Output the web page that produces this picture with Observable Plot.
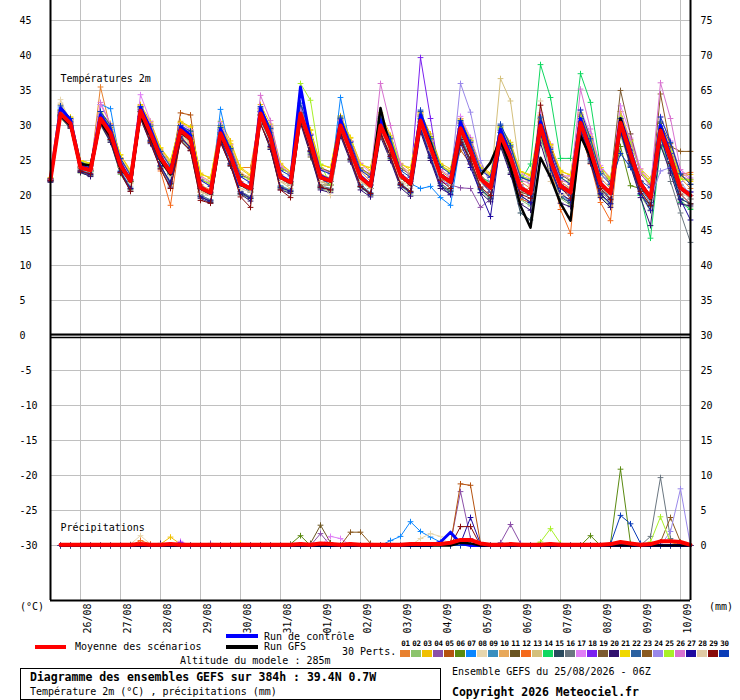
<!DOCTYPE html>
<html>
<head>
<meta charset="utf-8">
<script src="https://cdn.jsdelivr.net/npm/d3@7"></script>
<script src="https://cdn.jsdelivr.net/npm/@observablehq/plot@0.6"></script>
<style>
body{margin:0;background:#fff;}
#wrap{position:relative;width:740px;height:700px;font-family:"DejaVu Sans Mono",monospace;font-size:10px;color:#000;overflow:hidden;}
#chart{position:absolute;left:0;top:0;}
.t{position:absolute;white-space:pre;line-height:12px;}
.b{font-weight:bold;font-size:11.5px;}
.sw{position:absolute;width:10px;height:7px;}
.num{position:absolute;width:11px;text-align:center;font-weight:bold;font-size:7.5px;line-height:9px;letter-spacing:-0.3px;}
.box{position:absolute;left:20px;top:668px;width:421px;height:32px;border:1px solid #000;box-sizing:border-box;}
</style>
</head>
<body>
<div id="wrap"><div id="chart"></div></div>
<script>
// ---- tick labels / categories ----
const dates = ["26/08","27/08","28/08","29/08","30/08","31/08","01/09","02/09","03/09","04/09","05/09","06/09","07/09","08/09","09/09","10/09"];
const dayIndex = [3,7,11,15,19,23,27,31,35,39,43,47,51,55,59,63]; // 00Z steps (6h steps from 25/08 06Z)
const tempTicks = [-30,-25,-20,-15,-10,-5,0,5,10,15,20,25,30,35,40,45];
const pertLabels = ["01","02","03","04","05","06","07","08","09","10","11","12","13","14","15","16","17","18","19","20","21","22","23","24","25","26","27","28","29","30"];
const pertColors = ["#e8812f","#8cc46c","#f0c000","#8b4fa8","#b5520f","#5a8a10","#0a86ff","#e6d6ae","#3a8fbf","#e8a85a","#6a5420","#f56a1c","#d4c07c","#10d860","#2a4a5e","#6a7680","#e07ef6","#7a20f0","#7c5a30","#30106e","#f0d800","#2a60a0","#8a5a20","#9a88ea","#a8f028","#d872d0","#1e0aa0","#e0caa4","#880a0a","#0a3cb8"];

// ---- 2 m temperature (°C), every 6 h from 25/08 06Z (65 steps) ----
const tMean = [22.3,31.7,30.3,24.0,23.6,31.0,28.9,24.3,22.1,32.1,28.9,25.4,23.3,29.3,28.1,21.1,20.4,28.9,25.7,21.7,21.0,31.7,28.3,22.6,21.9,31.7,27.6,22.6,22.1,30.0,26.4,22.6,21.4,30.0,26.9,22.9,21.7,30.7,26.9,22.9,21.9,29.6,26.4,22.4,21.1,28.6,25.4,21.1,20.3,30.0,25.0,21.4,20.4,30.4,26.4,21.7,20.3,30.4,26.0,21.7,19.7,29.3,25.4,21.1,20.0];
const tCtrl = [22.3,32.5,30.8,24.2,23.8,31.5,29.3,24.6,22.2,32.6,29.4,25.6,23.4,29.8,28.6,21.2,20.3,29.5,26.0,21.8,21.0,32.5,28.8,22.8,22.0,35.5,28.0,22.8,22.2,30.8,26.8,22.8,21.5,30.8,27.3,23.0,21.8,31.5,27.3,23.0,22.0,30.5,26.8,22.5,21.0,29.5,25.8,21.0,20.3,30.5,25.5,21.5,20.5,31.0,26.8,21.8,20.3,31.0,26.5,21.8,19.7,30.0,25.8,21.0,20.0];
const tGfs = [22.2,31.5,30.0,24.5,24.3,30.5,28.5,24.0,22.0,31.5,28.5,25.0,23.0,29.0,28.0,21.0,20.3,28.5,25.5,21.5,21.0,31.5,28.0,22.5,22.0,31.5,27.5,22.5,22.0,30.0,26.5,22.5,21.5,32.5,26.5,23.0,21.5,30.5,27.5,23.0,22.0,29.5,26.0,22.9,24.7,28.0,24.0,18.5,15.4,25.4,22.6,18.9,16.4,28.5,25.5,21.5,20.5,31.0,26.0,21.5,19.5,29.5,25.5,21.0,20.0];
const t01 = [22.2,32.0,30.6,24.2,23.8,35.5,29.5,24.8,22.3,32.5,29.5,25.8,23.6,29.8,28.5,21.5,20.8,29.5,26.5,24.0,24.0,32.0,28.8,23.0,22.0,32.5,28.0,23.0,22.5,31.0,27.0,23.5,22.0,31.5,27.5,23.0,21.5,31.5,28.0,23.5,22.5,30.5,27.5,23.0,21.5,29.5,26.5,22.0,21.0,31.5,26.0,22.0,21.0,31.5,27.5,22.5,21.0,32.0,27.0,22.0,20.0,30.5,26.5,22.5,21.0];
const t02 = [22.0,31.0,29.6,23.2,22.8,30.0,27.6,23.0,20.8,31.0,27.6,24.0,21.5,28.0,26.5,19.8,19.2,27.8,24.2,20.2,19.5,30.5,26.8,21.0,20.4,30.5,26.0,21.0,20.6,28.8,25.0,21.2,20.0,28.8,25.2,21.4,20.2,29.4,25.4,21.4,20.4,28.2,24.8,20.8,19.4,27.0,23.6,19.4,18.5,28.4,23.2,19.6,18.6,28.8,24.6,19.9,18.5,28.6,24.2,20.0,17.8,27.6,23.6,19.2,18.2];
const t03 = [22.5,32.2,31.2,25.0,24.6,32.0,30.2,25.8,23.6,33.0,30.6,26.8,24.8,30.6,29.8,23.2,22.4,30.6,27.8,23.8,22.8,33.0,30.2,24.6,23.4,32.6,29.4,24.4,24.0,31.4,28.2,24.6,23.6,31.8,28.6,24.6,23.6,31.8,28.8,24.6,23.8,31.0,28.2,24.2,23.2,29.8,27.6,23.4,22.8,31.0,27.2,23.6,22.8,31.6,28.4,24.0,22.6,30.8,28.0,23.8,22.4,28.8,26.0,22.8,23.0];
const t04 = [22.0,31.5,30.2,23.8,23.5,31.5,29.0,24.0,22.0,32.5,29.0,25.0,23.0,29.5,28.5,21.0,20.5,29.0,26.0,21.5,21.0,32.0,28.5,22.5,22.0,31.5,27.5,22.0,22.0,30.5,26.5,22.5,21.0,30.5,27.0,22.5,21.5,31.0,27.5,23.0,21.5,21.1,21.0,18.3,19.5,28.5,25.5,21.5,20.0,29.5,24.5,21.0,20.0,31.0,26.5,21.5,20.5,30.5,26.0,21.0,19.5,30.0,26.0,21.5,19.5];
const t05 = [22.3,32.2,30.8,24.5,23.8,30.8,28.5,24.0,22.0,31.5,28.5,25.5,23.5,31.8,31.5,21.5,20.5,29.0,25.5,21.5,21.0,31.0,28.0,22.5,21.5,31.0,27.5,22.5,22.0,29.5,26.0,22.0,21.5,29.5,26.5,22.5,21.5,30.5,27.0,22.5,21.5,26.5,24.5,22.0,21.0,28.0,25.0,21.0,20.0,30.5,25.5,21.5,20.5,30.0,26.0,21.0,20.0,31.0,26.5,22.0,20.0,29.0,25.0,21.0,20.5];
const t06 = [22.2,31.5,30.0,24.0,23.5,30.5,28.5,24.0,21.8,31.5,28.5,25.0,23.0,29.0,27.5,20.5,20.0,28.5,25.5,21.5,20.5,31.5,28.0,22.5,21.5,31.5,27.5,22.0,21.5,29.5,26.0,22.0,21.0,29.5,26.5,22.5,21.5,31.5,27.0,22.5,22.0,30.0,26.5,22.0,21.0,28.5,25.0,21.0,20.0,29.0,24.5,21.5,20.5,29.5,25.5,20.5,20.5,27.0,21.4,21.0,19.5,29.0,25.0,21.5,20.0];
const t07 = [22.3,32.5,30.5,24.0,23.5,33.0,32.4,24.5,22.0,32.0,29.0,25.5,23.0,29.0,28.0,21.0,20.0,32.3,26.0,21.5,21.0,32.0,28.5,22.5,22.0,32.0,27.5,22.5,22.0,34.0,27.0,22.5,21.5,30.5,27.0,22.5,21.7,21.0,21.3,19.7,18.6,27.5,26.0,22.0,21.0,29.0,25.5,21.0,20.5,29.5,24.5,21.0,20.0,29.5,25.5,21.0,19.5,29.5,25.0,21.5,20.0,29.5,25.5,21.0,20.5];
const t08 = [22.5,33.7,30.5,24.0,23.5,31.0,28.5,24.0,21.5,31.5,28.0,25.0,22.5,28.5,27.5,20.5,20.0,28.5,25.0,21.5,20.5,31.0,27.5,22.0,21.5,31.0,27.0,22.0,21.5,29.0,25.5,22.0,21.5,29.0,26.0,22.0,21.0,30.0,26.0,22.5,21.5,29.0,26.0,22.0,21.0,28.0,24.5,20.5,20.5,29.0,23.0,20.0,20.0,29.0,25.5,21.5,20.0,30.0,25.5,21.5,19.0,28.5,24.5,20.5,19.5];
const t09 = [22.2,31.6,30.0,23.6,23.2,30.6,28.2,23.6,21.2,31.2,27.8,24.2,22.0,28.5,26.8,20.0,19.4,28.0,24.6,20.6,19.8,31.0,27.2,21.4,20.8,31.2,26.4,21.4,21.0,29.0,25.2,21.6,20.4,29.2,25.6,21.8,20.6,30.0,25.6,21.8,20.6,28.4,25.0,21.0,19.6,27.5,24.0,19.6,18.8,28.6,23.6,20.0,19.0,29.0,25.0,20.2,18.8,29.0,24.5,20.2,18.4,28.2,24.0,19.6,18.8];
const t10 = [22.4,31.8,30.9,24.8,24.4,31.6,29.9,25.4,23.2,32.8,30.2,26.6,24.6,30.4,29.4,22.8,22.0,30.0,27.2,23.2,22.5,32.4,29.6,24.0,23.2,32.6,28.8,24.0,23.4,31.0,27.8,24.0,22.8,31.0,28.3,24.3,23.2,31.9,28.3,24.3,23.4,31.0,27.8,23.8,22.8,30.0,27.0,22.8,22.3,31.4,27.2,23.2,22.3,31.5,27.8,23.4,22.4,32.0,27.8,23.3,21.8,30.4,26.8,22.8,22.2];
const t11 = [22.1,31.5,30.0,23.8,23.4,30.8,28.8,24.2,22.0,31.8,28.8,25.2,23.2,29.0,27.8,20.8,20.2,28.5,25.5,21.5,20.8,31.5,28.0,22.5,21.8,31.5,25.5,21.5,21.5,29.5,26.0,22.5,21.5,30.0,26.5,22.5,21.5,30.5,26.5,22.5,21.5,29.5,26.0,22.0,20.5,28.0,25.0,20.5,20.0,29.5,25.0,21.5,20.5,30.5,26.5,22.0,20.5,30.5,26.5,22.0,20.0,29.5,25.5,21.0,20.0];
const t12 = [22.3,31.8,30.4,24.1,23.6,31.0,29.0,24.4,22.2,32.0,29.0,23.5,18.6,28.5,27.0,20.5,20.5,29.0,25.8,22.0,21.0,31.5,28.5,22.8,22.0,31.5,27.5,22.5,22.0,29.5,26.0,22.5,21.0,30.0,27.0,23.0,21.5,30.0,26.5,22.5,22.0,29.5,26.0,22.0,20.5,27.5,24.0,19.5,19.0,30.5,24.0,18.0,14.6,29.0,24.5,19.0,16.4,29.5,25.0,21.0,20.0,29.0,25.5,23.0,23.3];
const t13 = [22.5,33.0,30.5,24.0,23.5,30.5,28.5,24.0,22.0,31.5,28.5,25.0,23.0,29.0,27.5,20.5,20.0,28.5,25.5,21.5,21.0,31.0,28.0,22.0,21.0,30.5,27.0,22.0,21.5,29.5,26.0,22.5,21.5,30.5,27.0,23.0,22.0,31.5,28.0,23.0,22.0,30.0,26.5,22.5,21.5,36.7,33.5,23.0,21.5,30.0,25.5,21.5,21.0,30.0,26.5,21.5,20.5,31.0,26.5,22.0,20.0,29.5,25.5,21.5,20.0];
const t14 = [22.2,31.6,30.2,24.0,23.5,31.0,28.8,24.2,22.0,32.0,29.0,25.2,23.2,29.0,28.0,21.0,20.2,28.8,25.6,21.5,21.0,31.5,28.0,22.5,21.8,31.5,27.5,22.5,22.0,30.0,26.5,22.5,21.5,30.5,27.0,23.0,21.5,31.0,27.0,23.0,22.0,30.0,26.5,22.5,22.0,29.5,26.0,22.0,24.5,38.7,34.0,25.3,25.3,37.4,33.3,24.0,21.5,30.0,26.0,20.0,13.9,27.0,24.0,19.0,18.0];
const t15 = [22.1,31.4,29.8,23.4,22.9,30.2,27.8,23.3,20.9,31.2,27.9,24.3,21.7,28.2,26.9,19.9,19.0,27.9,24.6,20.3,19.6,30.4,26.6,21.2,20.6,30.8,26.2,21.2,20.8,28.8,25.1,21.2,20.2,28.9,25.3,21.5,20.4,29.5,25.3,21.4,20.6,28.3,24.9,20.9,19.6,27.4,23.2,17.5,16.5,28.8,24.0,19.8,18.9,29.1,24.8,20.1,18.9,29.2,24.6,20.2,18.5,29.8,24.6,19.5,18.8];
const t16 = [21.9,31.2,29.7,23.3,22.8,30.2,27.9,23.4,21.0,31.0,27.7,24.1,21.6,28.1,26.7,20.1,19.3,27.7,24.4,20.6,19.8,30.7,27.0,21.3,20.7,30.6,26.3,21.3,21.0,28.7,25.3,21.4,20.3,28.7,25.6,21.7,20.5,29.6,25.7,21.7,20.7,28.7,25.1,21.2,19.8,27.4,24.3,19.9,19.1,29.2,24.2,20.2,19.2,29.4,25.2,20.6,19.2,29.6,25.1,20.6,18.6,30.0,22.0,17.5,13.3];
const t17 = [22.3,32.0,30.9,24.6,24.3,33.0,30.2,25.3,23.0,34.4,30.6,26.4,24.4,30.3,29.4,22.6,21.8,30.4,27.3,23.0,22.3,32.4,29.8,23.8,23.2,32.8,28.8,23.8,23.4,30.8,27.8,24.6,23.2,31.3,28.3,24.3,22.8,31.8,28.3,24.2,23.2,31.3,28.3,24.2,22.8,29.8,27.3,23.3,22.4,31.8,27.4,22.8,22.8,32.3,28.8,24.3,22.4,32.8,28.8,23.8,21.9,31.3,27.8,23.3,22.3];
const t18 = [22.2,31.8,30.4,24.0,23.6,31.2,29.0,24.4,22.2,32.2,29.0,25.4,23.2,29.4,28.2,21.2,20.4,29.0,25.8,21.8,21.0,32.0,28.5,22.5,22.0,31.5,27.5,22.5,22.0,30.0,26.5,22.5,21.5,30.0,27.0,23.0,22.0,39.7,31.0,22.0,21.5,29.5,26.0,22.0,20.5,28.0,25.0,21.0,20.0,29.5,24.5,21.0,20.0,30.5,26.0,21.5,20.0,30.0,26.0,21.5,19.5,28.5,25.0,21.0,20.5];
const t19 = [22.4,31.8,30.8,24.7,24.3,31.3,29.7,25.2,23.0,32.3,30.1,26.3,24.3,29.8,29.1,22.3,21.6,29.4,26.9,23.0,22.3,31.8,29.4,23.9,23.2,31.8,28.7,23.9,23.4,30.8,27.7,23.9,23.0,30.8,28.3,23.9,23.0,31.3,28.4,24.3,23.4,30.3,27.9,23.9,22.6,29.3,26.9,22.6,22.1,30.8,26.9,23.0,22.1,31.3,27.9,23.4,22.0,35.0,28.8,23.0,21.6,30.3,27.4,23.0,21.6];
const t20 = [21.9,31.2,29.6,23.3,22.7,30.2,27.6,23.2,20.6,31.0,27.4,23.8,21.2,27.8,26.4,19.6,18.9,27.6,24.2,20.2,19.2,30.4,26.6,20.8,20.3,30.3,25.8,20.8,20.4,28.5,24.8,20.8,19.8,28.4,25.0,21.1,19.9,29.1,25.0,21.0,20.2,28.0,24.5,20.4,19.1,27.0,23.0,18.8,17.9,27.5,22.8,18.9,18.4,29.2,24.6,19.7,18.3,29.2,24.2,19.7,15.7,27.2,23.2,18.8,18.5];
const t21 = [22.5,32.2,31.2,25.0,24.6,31.8,30.3,25.8,23.4,32.8,30.4,26.8,25.0,30.4,29.8,23.0,22.6,29.8,27.4,24.0,23.0,32.2,29.8,24.4,23.4,32.2,29.3,24.4,24.0,31.2,28.3,24.4,24.0,31.2,28.3,24.4,24.0,31.8,28.3,24.4,23.4,30.8,27.8,24.0,23.0,29.8,27.3,23.4,23.0,31.2,27.3,23.4,23.0,31.8,28.3,24.0,22.4,30.8,27.8,23.4,22.0,28.8,26.3,22.4,22.0];
const t22 = [22.3,32.2,30.6,24.2,23.6,32.0,29.4,24.6,22.2,32.6,29.4,25.6,23.2,30.0,28.6,21.0,20.0,30.0,26.5,21.5,20.5,32.5,29.0,22.5,21.5,32.5,28.0,22.5,21.5,31.0,27.0,22.5,21.0,31.0,27.5,22.5,21.5,32.0,27.5,22.5,21.5,30.5,27.0,22.0,20.5,30.0,26.0,21.0,20.0,31.0,25.5,21.0,20.0,31.0,26.5,21.5,19.5,31.0,26.5,21.0,19.0,30.5,26.0,21.0,19.5];
const t23 = [22.2,31.6,30.2,24.0,23.6,31.2,29.0,24.4,22.0,32.0,29.0,25.4,23.2,29.4,28.0,21.0,20.4,29.0,25.8,21.6,21.0,31.5,28.0,22.5,21.8,31.5,27.5,22.5,22.0,30.0,26.5,22.5,21.0,28.5,26.0,22.5,21.5,30.5,27.0,23.0,22.0,29.5,26.5,22.5,21.5,29.0,25.5,21.5,20.5,30.0,25.5,21.5,20.5,30.5,26.5,22.0,20.5,30.5,26.0,22.0,20.0,34.5,27.0,26.3,26.3];
const t24 = [22.2,31.8,30.4,24.0,23.6,31.4,29.2,24.4,22.2,32.2,29.2,25.4,23.2,29.4,28.2,21.2,20.4,29.0,25.8,21.8,21.0,32.0,28.5,22.5,22.0,31.5,27.5,22.5,22.0,30.0,26.5,22.5,21.5,30.5,27.0,23.0,21.5,30.5,27.0,23.0,22.0,36.0,31.9,25.0,21.5,28.5,25.5,21.5,20.5,30.0,25.0,21.5,20.5,30.5,26.5,22.0,20.5,30.5,26.0,21.5,19.5,23.5,24.0,22.0,20.0];
const t25 = [22.4,32.0,30.9,24.8,24.4,31.5,30.0,25.3,23.0,32.5,30.0,26.3,24.3,29.9,29.1,22.3,21.7,29.5,26.8,22.8,22.3,32.2,29.6,23.8,23.2,36.0,33.6,24.5,21.5,30.7,27.3,23.8,22.8,30.7,28.3,24.3,22.8,31.2,28.3,24.3,23.3,30.7,27.8,23.8,22.8,29.7,27.3,22.8,22.3,28.5,24.0,22.5,21.8,31.2,27.8,23.3,22.3,31.2,27.8,23.3,21.8,28.0,26.3,22.3,22.3];
const t26 = [22.3,32.0,30.9,24.6,24.2,33.3,30.2,25.2,22.9,32.7,30.2,26.2,24.1,29.8,29.0,22.1,21.4,29.4,26.7,22.7,21.9,34.3,30.7,24.2,23.2,32.2,28.7,23.7,23.2,30.7,27.7,23.7,22.7,36.0,30.0,24.5,22.7,31.2,27.7,23.7,22.7,30.2,27.7,23.7,22.7,29.2,26.2,22.2,21.7,30.2,26.7,22.2,21.7,35.2,29.5,23.7,21.7,30.7,28.2,23.2,21.2,36.1,31.0,23.7,22.5];
const t27 = [22.1,31.4,29.9,23.5,23.0,30.4,28.0,23.4,21.0,31.3,27.8,24.2,21.8,28.4,26.8,19.8,19.2,28.0,24.5,20.5,19.6,30.8,27.0,21.1,20.6,30.8,26.3,21.1,20.8,29.0,25.1,21.3,20.1,28.9,25.5,21.5,20.4,29.6,25.4,21.4,20.1,27.5,24.0,20.4,17.0,27.6,24.0,20.0,19.0,28.9,23.9,20.3,19.3,29.6,25.2,20.3,18.8,29.3,24.8,20.3,17.9,28.4,23.9,19.4,16.5];
const t28 = [22.4,33.2,30.8,24.0,23.5,31.0,28.8,24.0,21.8,31.5,28.5,25.0,22.8,28.8,27.5,20.5,20.0,28.5,25.5,21.0,20.5,30.5,27.5,22.0,21.5,31.0,27.0,22.0,20.0,29.5,26.0,22.0,21.0,29.5,26.0,22.0,21.5,30.0,26.5,22.5,21.5,29.5,26.0,22.0,21.0,28.5,25.0,21.0,20.5,33.5,22.0,20.0,20.5,30.0,26.0,21.0,20.0,30.5,26.0,21.5,19.5,29.0,25.0,21.0,19.5];
const t29 = [22.1,31.3,29.8,23.5,23.1,30.5,28.0,23.3,20.6,31.2,27.6,23.8,21.0,27.8,26.4,19.3,18.9,27.6,24.3,19.8,18.3,30.2,26.9,20.8,19.7,30.6,26.4,21.2,20.8,29.0,25.2,21.3,20.3,29.0,25.6,21.6,20.6,30.8,27.0,22.2,21.0,27.6,25.2,21.2,20.0,27.8,24.6,20.2,19.6,32.9,26.2,21.2,19.6,30.2,25.6,21.0,19.4,29.8,25.0,20.6,18.6,28.8,24.6,20.2,18.8];
const t30 = [22.4,32.8,31.0,24.7,24.2,32.0,30.0,25.3,22.9,32.7,29.9,26.3,24.1,30.0,29.2,22.2,21.3,29.7,26.7,22.7,21.8,32.7,29.6,23.6,22.8,33.2,28.6,23.6,23.1,31.2,27.6,23.6,22.6,31.2,28.1,23.6,22.6,32.2,28.1,24.1,23.1,30.7,27.6,23.6,22.6,30.2,27.1,22.6,22.1,31.2,26.6,22.6,21.6,32.2,28.1,23.1,21.6,26.0,24.0,22.1,21.1,31.2,27.6,23.1,21.6];

// ---- precipitation (mm per 6 h), first step has no value ----
const pMean = [null,0.1,0.1,0.1,0.1,0.1,0.1,0.1,0.1,0.2,0.1,0.1,0.2,0.1,0.1,0.1, 0.1,0.1,0.1,0.1,0.1,0.1,0.1,0.1,0.1,0.2,0.1,0.3,0.2,0.1,0.2,0.1, 0.1,0.1,0.1,0.1,0.2,0.2,0.2,0.2,0.4,0.8,0.8,0.3,0.1,0.1,0.2,0.1, 0.1,0.1,0.2,0.1,0.1,0.1,0.1,0.1,0.2,0.5,0.3,0.1,0.2,0.6,0.6,0.5,0.1];
const pCtrl = [null,0,0,0,0,0,0,0,0,0,0,0,0,0,0,0, 0,0,0,0,0,0,0,0,0,0,0,0,0,0,0,0, 0,0,0,0,0,0,0,0.5,1.9,0.3,0,0,0,0,0,0, 0,0,0,0,0,0,0,0,0,0,0,0,0,0,0,0,0];
const pGfs = [null,0,0,0,0,0,0,0,0,0,0,0,0,0,0,0, 0,0,0,0,0,0,0,0,0,0,0,0,0,0,0,0, 0,0,0,0,0,0,0,0,0,0.4,0.3,0,0,0,0,0, 0,0,0,0,0,0,0,0,0,0,0,0,0,0,0,0,0];
const p01 = [null,0,0,0,0,0,0,0,0,0,0,0,0,0,0,0, 0,0,0,0,0,0,0,0,0,0,0,0,0,0,0,0, 0,0,0,0,0,0,0,0,0,0,0,0,0,0,0,0, 0,0,0,0,0,0,0,0,0,0,0,0,0,0,0,0,0];
const p02 = [null,0,0,0,0,0,0,0,0,0,0,0,0,0,0,0, 0,0,0,0,0,0,0,0,0,0,0,0,0,0,0,0, 0,0,0,0,0,0,0,0,0,0,0,0,0,0,0,0, 0,0,0,0,0,0,0,0,0,0,0,0,0,0,0,0,0];
const p03 = [null,0,0,0,0,0,0,0,0,0,0,0.2,1.2,0.2,0,0, 0,0,0,0,0,0,0,0,0,0,0,0,0,0,0,0, 0,0,0,0,0,0,0,0,0,0,0,0,0,0,0,0, 0,0,0,0,0,0,0,0,0,0,0,0,0,0,0,0,0];
const p04 = [null,0,0,0,0,0,0,0,0,0,0,0,0,0,0,0, 0.3,0,0,0,0,0,0,0,0,0,0,1.7,0,0,0,0, 0,0,0,0,0,0,0,0,0.3,7.7,1.0,0,0,0.4,3.0,0.3, 0,0,0,0,0,0,0,0,0,0,0,0,0,0,0,0,0];
const p05 = [null,0,0,0,0,0,0,0,0,0,0,0,0,0,0,0, 0,0,0,0,0,0,0,0,0,0,0,0,0,0,0,0, 0,0,0,0,0,0,0,0,0.2,8.8,8.6,0.3,0,0,0,0, 0,0,0,0,0,0,0,0,0,0,0,0,0,0,0,0,0];
const p06 = [null,0,0,0,0,0,0,0,0,0,0,0,0,0,0,0, 0,0,0,0,0,0,0,0,0.2,1.4,0,0,0,0,0,0, 0,0,0,0,0,0,0,0,0,0,0,0,0,0,0,0, 0,0,0,0,0,0,1.4,0,0.3,10.9,0.3,0,0,0,0,0,0];
const p07 = [null,0,0,0,0,0,0,0,0,0,0,0,0,0,0,0, 0,0,0,0,0,0,0,0,0,0,0,0,0,0,0,0, 0,0,0.7,1.3,3.4,2.0,1.2,0.5,0,0,0,0,0,0,0,0, 0,0,0,0,0,0,0,0,0,0,0,0,0,0,0,0,0];
const p08 = [null,0,0,0,0,0,0,0,0.2,1.4,0.2,0,0,0,0,0, 0,0,0,0,0,0,0,0,0,0,0,0,0,0,0,0, 0,0,0,0,0,1.0,1.7,1.3,0,0,0,0,0,0,0,0, 0,0,0,0,0,0,0,0,0,0,0,0,0,0,0,0,0];
const p09 = [null,0,0,0,0,0,0,0,0,0,0,0,0,0,0,0, 0,0,0,0,0,0,0,0,0,0,0,0,0,0,0,0, 0,0,0,0,0,0,0,0,0,0,0,0,0,0,0,0, 0,0,0,0,0,0,0,0,0,0,0,0,0,0,0,0,0];
const p10 = [null,0,0,0,0,0,0,0,0,0,0,0,0,0,0,0, 0,0,0,0,0,0,0,0,0,0,0,0,0,0,0,0, 0,0,0,0,0,0,0,0,0,0,0,0,0,0,0,0, 0,0,0,0,0,0,0,0,0,0,0,0,0,0,0,0,0];
const p11 = [null,0,0,0,0,0,0,0,0,0,0,0,0,0,0,0, 0,0,0,0,0,0,0,0,0,0,0.3,2.9,0.4,0,0,0, 0,0,0,0,0,0,0,0,0,0,0,0,0,0,0,0, 0,0,0,0,0,0,0,0,0,0,0,0,0,0,0,0,0];
const p12 = [null,0,0,0,0,0,0,0,0,0.7,0.2,0,0,0,0,0, 0,0,0,0,0,0,0,0,0,0,0,0,0,0,0,0, 0,0,0,0,0,0,0,0,0,0,0,0,0,0,0,0, 0,0,0,0,0,0,0,0,0,0,0,0,0,0,0,0,0];
const p13 = [null,0,0,0,0,0,0,0,0,0,0,0,0,0,0,0, 0,0,0,0,0,0,0,0,0,0,0,0,0,0,0,0, 0,0,0,0,0,0,0,0,0,0,0,0,0,0,0,0, 0,0,0,0,0,0,0,0,0,0,0,0,0,0,0,0,0];
const p14 = [null,0,0,0,0,0,0,0,0,0,0,0,0,0,0,0, 0,0,0,0,0,0,0,0,0,0,0,0,0,0,0,0, 0,0,0,0,0,0,0,0,0,0,0,0,0,0,0,0, 0,0,0,0,0,0,0,0,0,0,0,0,0,0,0,0,0];
const p15 = [null,0,0,0,0,0,0,0,0,0,0,0,0,0,0,0, 0,0,0,0,0,0,0,0,0,0,0,0,0,0,0,0, 0,0,0,0,0,0,0,0,0,0,0,0,0,0,0,0, 0,0,0,0,0,0,0,0,0,0,0,0,0,0,0,0,0];
const p16 = [null,0,0,0,0,0,0,0,0,0,0,0,0,0,0,0, 0,0,0,0,0,0,0,0,0,0,0,0,0,0,0,0, 0,0,0,0,0,0,0,0,0,0,0,0,0,0,0,0, 0,0,0,0,0,0,0,0,0,0,0,0,1.3,9.7,1.0,0,0];
const p17 = [null,0,0,0,0,0,0,0,0,0,0,0,0,0.6,0,0, 0,0,0,0,0,0,0,0,0,0,0,0,1.3,1.0,0,0, 0,0,0,0,0,0,0,0,0,0,0,0,0,0,0,0, 0,0,0,0,0,0,0,0,0,0,0,0,0,0,0,0,0];
const p18 = [null,0,0,0,0,0,0,0,0,0,0,0,0,0.4,0,0, 0,0,0,0,0,0,0,0,0,0,0,0,0,0,0,0, 0,0,0,0,0,0,0,0,0,0,0,0,0,0,0,0, 0,0,0,0,0,0,0,0,0,0,0,0,0,0,0,0,0];
const p19 = [null,0,0,0,0,0,0,0,0,0,0,0,0,0,0,0, 0,0,0,0,0,0,0,0,0,0,0,0,0,0,0,0, 0,0,0,0,0,0,0,0,0,0,0,0,0,0,0,0, 0,0,0,0,0,0,0,0,0,0,0,0,0,0,0,0,0];
const p20 = [null,0,0,0,0,0,0,0,0,0,0,0.3,0,0,0,0, 0,0,0,0,0,0,0,0,0,0,0,0,0,0,0,0, 0,0,0,0,0,0,0,0,0,0,0,0,0,0,0,0, 0,0,0,0,0,0,0,0,0,0,0,0,0,0,0,0,0];
const p21 = [null,0,0,0,0,0,0,0,0,0,0,0,0,0,0,0, 0,0,0,0.3,0,0,0,0,0,0,0,0,0,0,0,0, 0,0,0,0,0,0,0,0,0,0,0,0,0,0,0,0, 0,0,0,0,0,0,0,0,0,0,0,0,0,0,0,0,0];
const p22 = [null,0,0,0,0,0,0,0,0,0,0,0,0,0,0,0, 0,0,0,0,0,0,0,0,0,0,0,0,0,0,0,0, 0,0,0,0,0,0,0,0,0,0,0,0,0,0,0,0, 0,0,0,0,0,0,0,0,0,0,0,0,0,0,0,0,0];
const p23 = [null,0,0,0,0,0,0,0,0,0,0,0,0,0,0,0, 0,0,0,0,0,0,0,0,0,0,0,0,0,0,1.9,1.9, 0.3,0,0,0,0,0,0,0,0,0,0,0,0,0,0,0, 0,0,0,0,0,0,0,0,0,0,0,0,0,0.5,4.0,0.5,0];
const p24 = [null,0,0,0,0,0,0,0,0,0,0,0,0,0,0,0, 0,0,0,0,0,0,0,0,0,0,0,0,0,0,0,0, 0,0,0,0,0,0,0,0,0,0,0,0,0,0,0,0, 0,0,0,0,0,0,0,0,0,0,0,0,0,0,2.0,8.1,0];
const p25 = [null,0,0,0,0,0,0,0,0,0,0,0,0,0,0,0, 0,0,0,0,0,0,0,0,0,0,0,0,0,0,0,0, 0,0,0,0,0,0,0,0,0,0,0,0,0,0,0,0, 0,0.5,2.4,0.3,0,0,0,0,0,0,0,0,0.5,4.1,0.5,0,0];
const p26 = [null,0,0,0,0,0,0,0,0,0,0,0,0,0,0,0, 0,0,0,0,0,0,0,0,0,0,0,0,0,0,0,0, 0,0,0,0,0,0,0,0,0,0,0,0,0,0,0,0, 0,0,0,0,0,0,0,0,0,0,0,0,0,0,0,0,0];
const p27 = [null,0,0,0,0,0,0,0,0,0,0,0,0,0,0,0, 0,0,0,0,0,0,0,0,0,0,0,0,0,0,0,0, 0,0,0,0,0,0,0,0,0,0.3,4.0,0.2,0,0,0,0, 0,0,0,0,0,0,0,0,0,0,0,0,0,0,0,0,0];
const p28 = [null,0,0,0,0,0,0,0,0,0,0,0,0,0,0,0, 0,0,0,0,0,0,0,0,0,0,0,0,0,0,0,0, 0,0,0,0,0,0,0,0,0,0,0,0,0,0,0,0, 0,0,0,0,0,0,0,0,0,0,0,0,0,0,0,0,0];
const p29 = [null,0,0,0,0,0,0,0,0,0,0,0,0,0,0,0, 0,0,0,0,0,0,0,0,0,0,0,0,0,0,0,0, 0,0,0,0,0,0,0,0,0,2.7,2.7,0,0,0,0,0, 0,0,0,0,0,0,0,0,0,0,0,0,0,0,0,0,0];
const p30 = [null,0,0,0,0,0,0,0,0,0,0,0,0,0,0,0, 0,0,0,0,0,0,0,0,0,0,0,0,0,0,0,0, 0,0,0,0,0,0,0,0,0,0,0,0,0,0,0,0, 0,0,0,0,0,0,0,0,0.2,4.3,3.1,0.3,0,0,0,0,0];

const tMembers = [t01,t02,t03,t04,t05,t06,t07,t08,t09,t10,t11,t12,t13,t14,t15,t16,t17,t18,t19,t20,t21,t22,t23,t24,t25,t26,t27,t28,t29,t30];
const pMembers = [p01,p02,p03,p04,p05,p06,p07,p08,p09,p10,p11,p12,p13,p14,p15,p16,p17,p18,p19,p20,p21,p22,p23,p24,p25,p26,p27,p28,p29,p30];

// precipitation shares the left axis: 0 mm sits on the -30 line (right axis = left + 30)
const PRECIP_OFFSET = 30;
const xi = (d, i) => i;
const yT = d => d;
const yP = d => (d == null ? NaN : d - PRECIP_OFFSET);
const yMin = -37.857, yMax = 47.857;
const FONT = "DejaVu Sans Mono, monospace";

function memberMarks(series, yAcc) {
  return series.flatMap((s, k) => [
    Plot.line(s, {x: xi, y: yAcc, stroke: pertColors[k], strokeWidth: 1}),
    Plot.dot(s, {x: xi, y: yAcc, symbol: "plus", r: 2, stroke: pertColors[k], strokeWidth: 1})
  ]);
}

const chart = Plot.plot({
  width: 740, height: 640,
  marginLeft: 50, marginRight: 50, marginTop: 0, marginBottom: 40,
  x: {domain: [0, 64], axis: null},
  y: {domain: [yMin, yMax], axis: null},
  style: {fontFamily: FONT, fontSize: "10px", background: "white", overflow: "visible"},
  marks: [
    Plot.ruleY(tempTicks, {stroke: "#c0c0c0", strokeWidth: 1}),
    Plot.ruleX(dayIndex, {stroke: "#c0c0c0", strokeWidth: 1}),
    ...memberMarks(tMembers, yT),
    ...memberMarks(pMembers, yP),
    Plot.line(tCtrl, {x: xi, y: yT, stroke: "#0000ff", strokeWidth: 3}),
    Plot.line(pCtrl, {x: xi, y: yP, stroke: "#0000ff", strokeWidth: 3}),
    Plot.line(tGfs, {x: xi, y: yT, stroke: "#000000", strokeWidth: 2.5}),
    Plot.line(pGfs, {x: xi, y: yP, stroke: "#000000", strokeWidth: 2.5}),
    Plot.line(tMean, {x: xi, y: yT, stroke: "#ff0000", strokeWidth: 4}),
    Plot.line(pMean, {x: xi, y: yP, stroke: "#ff0000", strokeWidth: 4}),
    // frame
    Plot.ruleX([0, 64], {stroke: "#000", strokeWidth: 2}),
    Plot.ruleY([yMin], {stroke: "#000", strokeWidth: 2}),
    Plot.ruleY([0], {stroke: "#000", strokeWidth: 2, dy: -1}),
    Plot.ruleY([0], {stroke: "#000", strokeWidth: 1.5, dy: 2}),
    // axis labels
    Plot.text(tempTicks, {x: () => 0, y: yT, text: d => String(d), textAnchor: "start", dx: -31, fontSize: 10, fontFamily: FONT}),
    Plot.text(tempTicks, {x: () => 64, y: yT, text: d => String(d + PRECIP_OFFSET), textAnchor: "start", dx: 10, fontSize: 10, fontFamily: FONT}),
    Plot.text(dates, {x: (d, i) => dayIndex[i], y: () => yMin, text: d => d, rotate: -90, textAnchor: "end", lineAnchor: "middle", dx: 7, dy: 3, fontSize: 10, fontFamily: FONT}),
    Plot.text(["Températures 2m"], {frameAnchor: "top-left", text: d => d, textAnchor: "start", lineAnchor: "middle", dx: 10, dy: 78, fontSize: 10, fontFamily: FONT}),
    Plot.text(["Précipitations"], {frameAnchor: "top-left", text: d => d, textAnchor: "start", lineAnchor: "middle", dx: 10, dy: 527, fontSize: 10, fontFamily: FONT})
  ]
});
document.getElementById("chart").appendChild(chart);

// ---- legend & captions ----
const wrap = document.getElementById("wrap");
function add(html, cls, left, top, extra) {
  const el = document.createElement("div");
  el.className = cls;
  el.style.left = left + "px";
  el.style.top = top + "px";
  if (extra) Object.assign(el.style, extra);
  el.innerHTML = html;
  wrap.appendChild(el);
  return el;
}
add("(°C)", "t", 20, 601);
add("(mm)", "t", 709, 601);
add("", "t", 35, 645, {width: "31px", height: "4px", background: "#ff0000"});
add("Moyenne des scénarios", "t", 75, 641);
add("", "t", 226, 634, {width: "32px", height: "4px", background: "#0000ff"});
add("Run de contrôle", "t", 264, 631);
add("", "t", 226, 645, {width: "32px", height: "4px", background: "#000000"});
add("Run GFS", "t", 264, 641);
add("30 Perts.", "t", 342, 646);
add("Altitude du modele : 285m", "t", 180, 655);
pertLabels.forEach((lab, k) => {
  add(lab, "num", 400 + 11 * k, 639);
  add("", "sw", 400 + 11 * k, 650, {background: pertColors[k]});
});
add("", "box", 20, 668);
add("Diagramme des ensembles GEFS sur 384h : 39.4N 0.7W", "t b", 30, 671);
add("Température 2m (°C) , précipitations (mm)", "t", 30, 686);
add("Ensemble GEFS du 25/08/2026 - 06Z", "t", 452, 666);
add("Copyright 2026 Meteociel.fr", "t b", 452, 686);
</script>
</body>
</html>
